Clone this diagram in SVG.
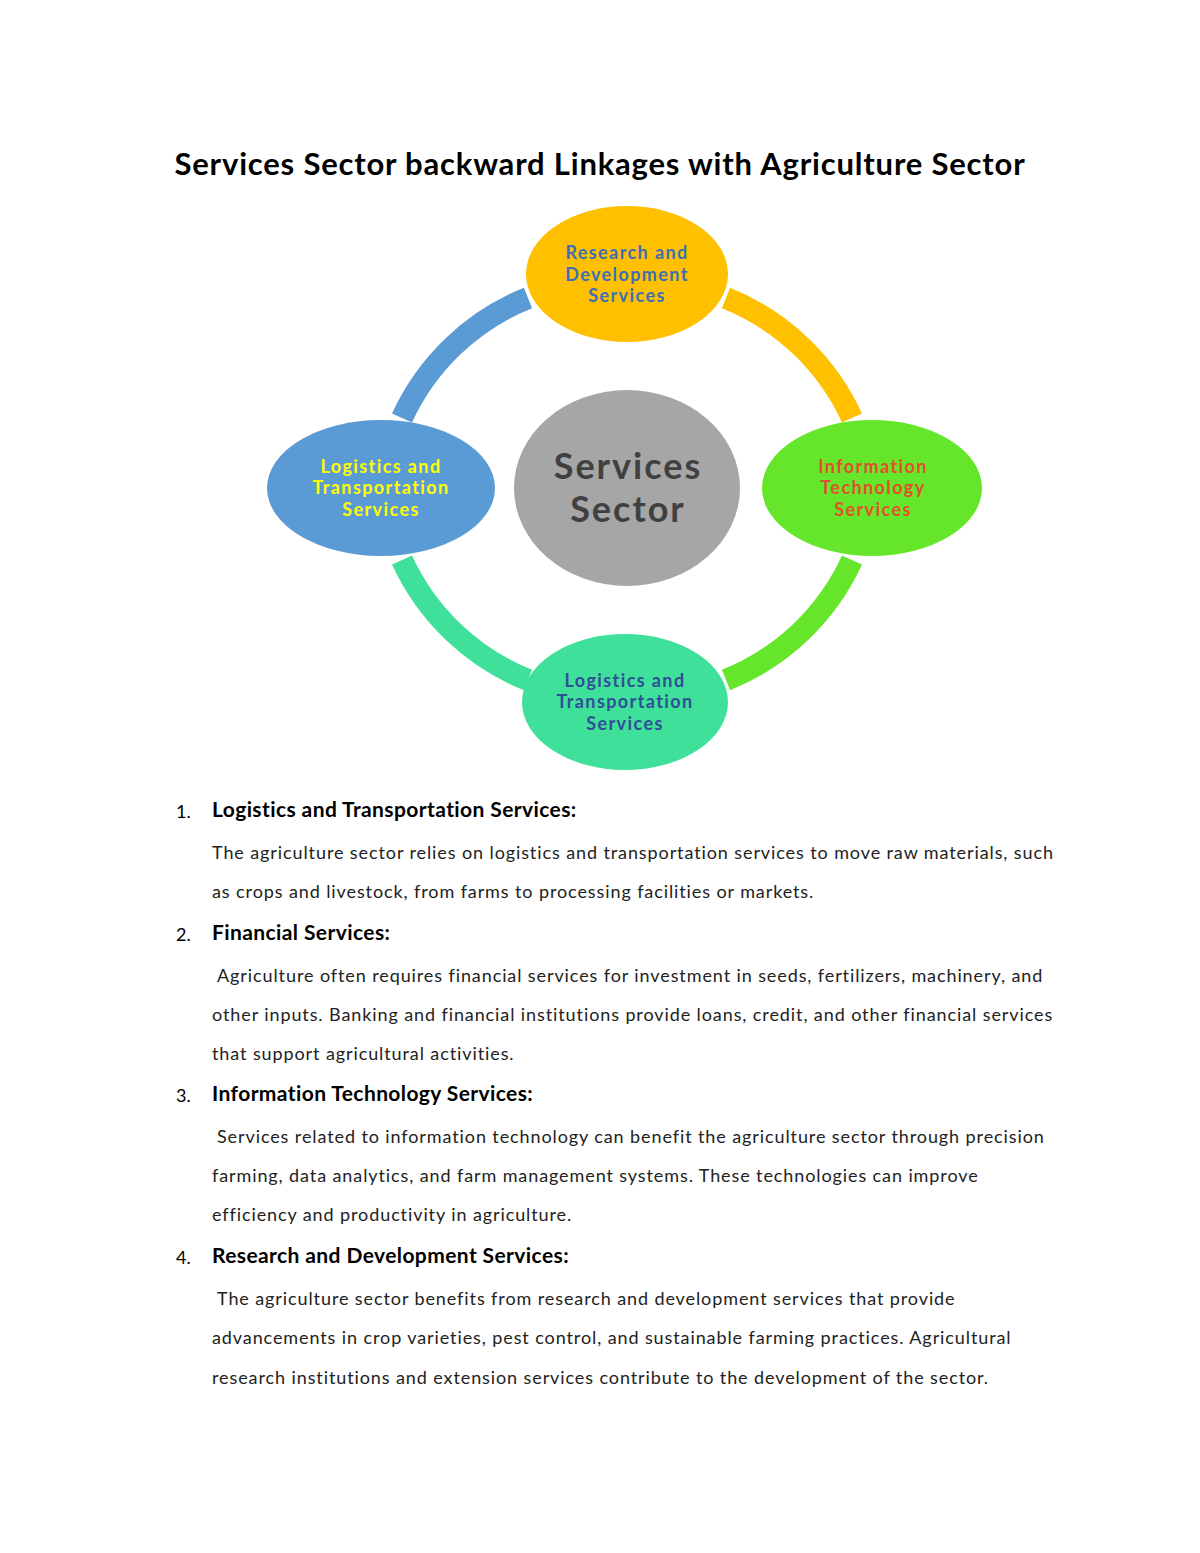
<svg xmlns="http://www.w3.org/2000/svg" width="1200" height="1553" viewBox="0 0 1200 1553">
<style>
text{font-family:Lato,"Open Sans","Liberation Sans",sans-serif}
.n{font-weight:bold;font-size:18px;text-anchor:middle;letter-spacing:1.4px}
.h{font-weight:bold;font-size:21px;fill:#000;letter-spacing:0.4px}
.b{font-size:18px;fill:#222;letter-spacing:0.9px}
.num{font-size:18px;fill:#000}
.arc{fill:none;stroke-width:22}
</style>
<rect width="1200" height="1553" fill="#fff"/>
<text x="600" y="175" text-anchor="middle" font-weight="bold" font-size="31" fill="#000" letter-spacing="0.8">Services Sector backward Linkages with Agriculture Sector</text>
<g id="connectors">
<path class="arc" stroke="#5B9BD5" d="M528 298 A235 235 0 0 0 402 418"/>
<path class="arc" stroke="#FFC000" d="M726 298 A235 235 0 0 1 852 418"/>
<path class="arc" stroke="#66E62A" d="M852 560 A235 235 0 0 1 726 680"/>
<path class="arc" stroke="#3FE09A" d="M402 560 A235 235 0 0 0 528 680"/>
</g>
<g id="top"><ellipse cx="627" cy="274" rx="101" ry="68" fill="#FFC000"/>
<text class="n" fill="#3B6FB6"><tspan x="627" y="259">Research and</tspan><tspan x="627" y="281">Development</tspan><tspan x="627" y="302">Services</tspan></text></g>
<g id="right"><ellipse cx="872" cy="488" rx="110" ry="68" fill="#66E62A"/>
<text class="n" fill="#E0502A"><tspan x="873" y="473">Information</tspan><tspan x="873" y="494">Technology</tspan><tspan x="873" y="516">Services</tspan></text></g>
<g id="bottom"><ellipse cx="625" cy="702" rx="103" ry="68" fill="#3FE09A"/>
<text class="n" fill="#2F4F96"><tspan x="625" y="687">Logistics and</tspan><tspan x="625" y="708">Transportation</tspan><tspan x="625" y="730">Services</tspan></text></g>
<g id="left"><ellipse cx="381" cy="488" rx="114" ry="68" fill="#5B9BD5"/>
<text class="n" fill="#FFFF00"><tspan x="381" y="473">Logistics and</tspan><tspan x="381" y="494">Transportation</tspan><tspan x="381" y="516">Services</tspan></text></g>
<g id="center"><ellipse cx="627" cy="488" rx="113" ry="98" fill="#A6A6A6"/>
<text text-anchor="middle" font-weight="bold" font-size="36" fill="#404040" letter-spacing="2"><tspan x="628" y="479">Services</tspan><tspan x="628" y="522">Sector</tspan></text></g>
<g id="list">
<text class="num" x="176" y="818">1.</text><text class="h" x="212" y="817">Logistics and Transportation Services:</text>
<text class="b" x="212" y="859">The agriculture sector relies on logistics and transportation services to move raw materials, such</text>
<text class="b" x="212" y="898">as crops and livestock, from farms to processing facilities or markets.</text>
<text class="num" x="176" y="941">2.</text><text class="h" x="212" y="940">Financial Services:</text>
<text class="b" x="217" y="982">Agriculture often requires financial services for investment in seeds, fertilizers, machinery, and</text>
<text class="b" x="212" y="1021">other inputs. Banking and financial institutions provide loans, credit, and other financial services</text>
<text class="b" x="212" y="1060">that support agricultural activities.</text>
<text class="num" x="176" y="1102">3.</text><text class="h" x="212" y="1101">Information Technology Services:</text>
<text class="b" x="217" y="1143">Services related to information technology can benefit the agriculture sector through precision</text>
<text class="b" x="212" y="1182">farming, data analytics, and farm management systems. These technologies can improve</text>
<text class="b" x="212" y="1221">efficiency and productivity in agriculture.</text>
<text class="num" x="176" y="1264">4.</text><text class="h" x="212" y="1263">Research and Development Services:</text>
<text class="b" x="217" y="1305">The agriculture sector benefits from research and development services that provide</text>
<text class="b" x="212" y="1344">advancements in crop varieties, pest control, and sustainable farming practices. Agricultural</text>
<text class="b" x="212" y="1384">research institutions and extension services contribute to the development of the sector.</text>
</g>
</svg>
